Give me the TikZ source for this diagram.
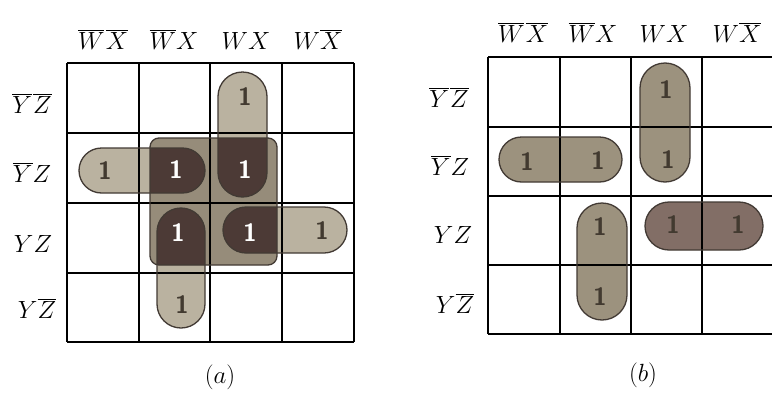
\documentclass[tikz,border=0pt]{standalone}
\usetikzlibrary{calc}
\definecolor{lightloop}{RGB}{186,178,160}
\definecolor{midloop}{RGB}{150,140,122}
\definecolor{darkblob}{RGB}{76,58,54}
\definecolor{bloop}{RGB}{156,146,126}
\definecolor{bdark}{RGB}{130,110,102}
\definecolor{edge}{RGB}{66,58,52}
\definecolor{onecol}{RGB}{66,58,48}
\tikzset{
  gridline/.style={line width=1.7pt, black},
  loopedge/.style={draw=edge, line width=1.3pt},
  hdr/.style={anchor=base, inner sep=0pt, font=\fontsize{30}{34}\selectfont},
  one/.style={inner sep=0pt, text=onecol, font=\fontsize{25}{28}\selectfont\sffamily\bfseries},
  onew/.style={one, text=white},
  captext/.style={anchor=base, inner sep=0pt, font=\fontsize{25}{28}\selectfont}
}
\newcommand{\ovl}[1]{\overline{#1}}
\begin{document}
\begin{tikzpicture}[x=1pt,y=-1pt]
\useasboundingbox (0,0) rectangle (772,394);
\fill[white] (0,0) rectangle (772,394);
% ---------------- (a) ----------------
\fill[lightloop, rounded corners=24.5pt] (218,72) rectangle (267,197);
\fill[lightloop, rounded corners=22.5pt] (79,148) rectangle (205,193);
\fill[lightloop, rounded corners=23pt] (223,207) rectangle (347,253);
\fill[lightloop, rounded corners=24pt] (157,208) rectangle (205,328);
\fill[midloop, rounded corners=9pt] (150,138) rectangle (277,265);
\begin{scope}
  \clip[rounded corners=9pt] (150,138) rectangle (277,265);
  \fill[darkblob, rounded corners=24.5pt] (218,72) rectangle (267,197);
  \fill[darkblob, rounded corners=22.5pt] (79,148) rectangle (205,193);
  \fill[darkblob, rounded corners=23pt] (223,207) rectangle (347,253);
  \fill[darkblob, rounded corners=24pt] (157,208) rectangle (205,328);
\end{scope}
\foreach \x in {67,139,210,282,354} \draw[gridline] (\x,63) -- (\x,342);
\foreach \y in {63,133,203,273,342} \draw[gridline] (67,\y) -- (354,\y);
\draw[loopedge, rounded corners=24.5pt] (218,72) rectangle (267,197);
\draw[loopedge, rounded corners=22.5pt] (79,148) rectangle (205,193);
\draw[loopedge, rounded corners=23pt] (223,207) rectangle (347,253);
\draw[loopedge, rounded corners=24pt] (157,208) rectangle (205,328);
\draw[loopedge, rounded corners=9pt] (150,138) rectangle (277,265);
\node[hdr] (ah1) at (103,49) {$\ovl{W}\mkern1mu\ovl{X}$};
\node[hdr] (ah2) at (174,49) {$\ovl{W}X$};
\node[hdr] (ah3) at (246,49) {$WX$};
\node[hdr] (ah4) at (318,49) {$W\ovl{X}$};
\node[hdr] (ar1) at (32,113) {$\ovl{Y}\mkern1mu\ovl{Z}$};
\node[hdr] (ar2) at (32,182) {$\ovl{Y}Z$};
\node[hdr] (ar3) at (33,252) {$YZ$};
\node[hdr] (ar4) at (37,318) {$Y\ovl{Z}$};
\node[one]  (a02) at (245,97) {1};
\node[one]  (a10) at (105,171) {1};
\node[onew] (a11) at (176,170) {1};
\node[onew] (a12) at (245,170) {1};
\node[onew] (a21) at (178,233) {1};
\node[onew] (a22) at (250,233) {1};
\node[one]  (a23) at (322,231) {1};
\node[one]  (a31) at (182,305) {1};
\node[captext] (capa) at (220,383) {$(a)$};
% ---------------- (b) ----------------
\fill[bloop, rounded corners=25pt] (640,63) rectangle (690,182);
\fill[bloop, rounded corners=22.5pt] (499,137) rectangle (622,182);
\fill[bloop, rounded corners=25pt] (577,203) rectangle (627,320);
\fill[bdark, rounded corners=24pt] (645,202) rectangle (763,250);
\foreach \x in {488,560,631,702,773} \draw[gridline] (\x,57) -- (\x,334);
\foreach \y in {57,127,196,265,334} \draw[gridline] (488,\y) -- (773,\y);
\draw[loopedge, rounded corners=25pt] (640,63) rectangle (690,182);
\draw[loopedge, rounded corners=22.5pt] (499,137) rectangle (622,182);
\draw[loopedge, rounded corners=25pt] (577,203) rectangle (627,320);
\draw[loopedge, rounded corners=24pt] (645,202) rectangle (763,250);
\node[hdr] (bh1) at (523,42) {$\ovl{W}\mkern1mu\ovl{X}$};
\node[hdr] (bh2) at (593,42) {$\ovl{W}X$};
\node[hdr] (bh3) at (664,42) {$WX$};
\node[hdr] (bh4) at (737,42) {$W\ovl{X}$};
\node[hdr] (br1) at (449,107) {$\ovl{Y}\mkern1mu\ovl{Z}$};
\node[hdr] (br2) at (450,175) {$\ovl{Y}Z$};
\node[hdr] (br3) at (453,243) {$YZ$};
\node[hdr] (br4) at (455,313) {$Y\ovl{Z}$};
\node[one] (b02) at (666,90) {1};
\node[one] (b10) at (527,162) {1};
\node[one] (b11) at (598,161) {1};
\node[one] (b12) at (668,160) {1};
\node[one] (b21) at (600,227) {1};
\node[one] (b22) at (673,225) {1};
\node[one] (b23) at (738,225) {1};
\node[one] (b31) at (600,297) {1};
\node[captext] (capb) at (643,381) {$(b)$};
\end{tikzpicture}
\end{document}
